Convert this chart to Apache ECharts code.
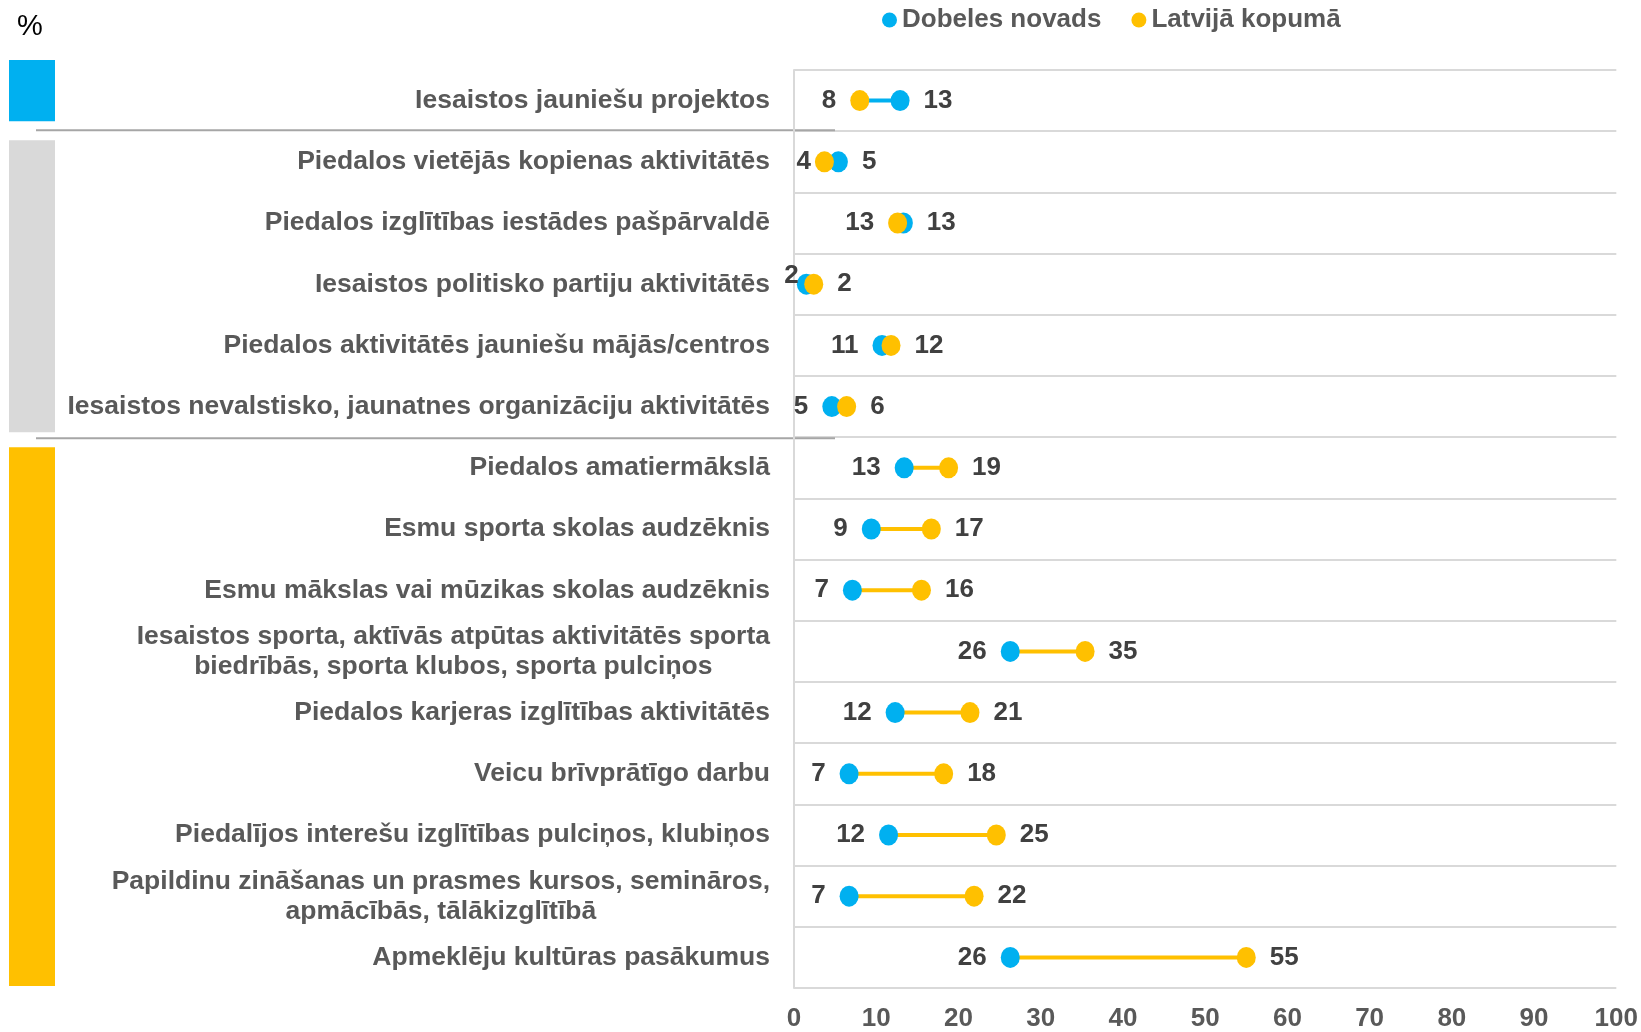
<!DOCTYPE html>
<html>
<head>
<meta charset="UTF-8">
<title>Jauniešu līdzdalība</title>
<script src="https://cdn.jsdelivr.net/npm/echarts@6/dist/echarts.min.js"></script>
<style>
html, body { margin: 0; padding: 0; background: #fff; }
#container { width: 1641px; height: 1032px; }
</style>
</head>
<body>
<div id="container"></div>
<script>
// kategorijas (no augšas uz leju)
var categories = [
    'Iesaistos jauniešu projektos',
    'Piedalos vietējās kopienas aktivitātēs',
    'Piedalos izglītības iestādes pašpārvaldē',
    'Iesaistos politisko partiju aktivitātēs',
    'Piedalos aktivitātēs jauniešu mājās/centros',
    'Iesaistos nevalstisko, jaunatnes organizāciju aktivitātēs',
    'Piedalos amatiermākslā',
    'Esmu sporta skolas audzēknis',
    'Esmu mākslas vai mūzikas skolas audzēknis',
    'Iesaistos sporta, aktīvās atpūtas aktivitātēs sporta\nbiedrībās, sporta klubos, sporta pulciņos',
    'Piedalos karjeras izglītības aktivitātēs',
    'Veicu brīvprātīgo darbu',
    'Piedalījos interešu izglītības pulciņos, klubiņos',
    'Papildinu zināšanas un prasmes kursos, semināros,\napmācībās, tālākizglītībā',
    'Apmeklēju kultūras pasākumus'
];
var seriesNames = ['Dobeles novads', 'Latvijā kopumā'];
var dobele  = [12.9, 5.4, 13.3, 1.5, 10.7, 4.6, 13.4, 9.4, 7.1, 26.3, 12.3, 6.7, 11.5, 6.7, 26.3];
var latvija = [8.0, 3.7, 12.6, 2.4, 11.8, 6.4, 18.8, 16.7, 15.5, 35.4, 21.4, 18.2, 24.6, 21.9, 55.0];
var xTicks = [0, 10, 20, 30, 40, 50, 60, 70, 80, 90, 100];
// grupas: [pirmā rinda, pēdējā rinda]
var groups = [[0, 0], [1, 5], [6, 14]];

var BLUE = '#00b0f0', YELLOW = '#ffc000', GREY = '#d9d9d9';
var FONT = '"Liberation Sans Narrow", "Liberation Sans", Arial, sans-serif';

var dom = document.getElementById('container');
var myChart = echarts.init(dom);

function pointData(vals, other) {
    return vals.map(function (v, i) {
        var left = v < other[i];
        var lab = { position: left ? 'left' : 'right' };
        if (left && v < 3) { lab.offset = [6, -8]; lab.distance = 4; }
        else if (left && v < 4) { lab.distance = 4; }
        return { value: [v, i], label: lab };
    });
}

var baseData = dobele.map(function (v, i) { return Math.min(v, latvija[i]); });
var gapData = dobele.map(function (v, i) {
    return {
        value: Math.abs(v - latvija[i]),
        itemStyle: { color: v > latvija[i] ? BLUE : YELLOW }
    };
});

var labelStyle = {
    show: true,
    fontFamily: FONT,
    fontWeight: 'bold',
    fontSize: 26,
    color: '#404040',
    distance: 14,
    formatter: function (p) { return Math.round(p.value[0]); }
};

var option = {
    animation: false,
    textStyle: { fontFamily: FONT },
    legend: {
        data: seriesNames,
        top: 2,
        left: 877,
        icon: 'circle',
        itemWidth: 15,
        itemHeight: 15,
        itemGap: 30,
        textStyle: { fontFamily: FONT, fontWeight: 'bold', fontSize: 26, color: '#595959' }
    },
    grid: { left: 794, right: 24, top: 70, bottom: 40 },
    xAxis: {
        type: 'value',
        min: xTicks[0],
        max: xTicks[xTicks.length - 1],
        interval: 10,
        axisLine: { show: false },
        axisTick: { show: false },
        splitLine: { show: false },
        axisLabel: { margin: 18, fontFamily: FONT, fontWeight: 'bold', fontSize: 26, color: '#595959' }
    },
    yAxis: {
        type: 'category',
        inverse: true,
        data: categories,
        axisLine: { show: true, lineStyle: { color: GREY, width: 2 } },
        axisTick: { show: false },
        splitLine: { show: true, lineStyle: { color: GREY, width: 2 } },
        axisLabel: {
            margin: 24,
            lineHeight: 30,
            fontFamily: FONT,
            fontWeight: 'bold',
            fontSize: 26.5,
            color: '#595959',
            formatter: function (v) {
                return v.split('\n').map(function (s) { return '{c|' + s + '}'; }).join('\n');
            },
            rich: {
                c: { align: 'center', fontFamily: FONT, fontWeight: 'bold', fontSize: 26.5, color: '#595959', lineHeight: 30 }
            }
        }
    },
    series: [
        {
            type: 'bar', stack: 'gap', barWidth: 4, silent: true,
            itemStyle: { color: 'transparent' },
            data: baseData
        },
        {
            type: 'bar', stack: 'gap', barWidth: 4, silent: true,
            data: gapData
        },
        {
            name: seriesNames[0], type: 'scatter', z: 3,
            symbolSize: [19, 21],
            itemStyle: { color: BLUE, opacity: 1 },
            label: labelStyle,
            data: pointData(dobele, latvija)
        },
        {
            name: seriesNames[1], type: 'scatter', z: 4,
            symbolSize: [19, 21],
            itemStyle: { color: YELLOW, opacity: 1 },
            label: labelStyle,
            data: pointData(latvija, dobele)
        }
    ]
};
myChart.setOption(option, true);

// grupu joslas kreisajā pusē un atdalītājlīnijas
var band = myChart.convertToPixel({ yAxisIndex: 0 }, 1) - myChart.convertToPixel({ yAxisIndex: 0 }, 0);
function rowTop(i) { return myChart.convertToPixel({ yAxisIndex: 0 }, i) - band / 2; }
function rowBottom(i) { return myChart.convertToPixel({ yAxisIndex: 0 }, i) + band / 2; }
var groupColors = [BLUE, GREY, YELLOW];
var insets = [[-10, 10], [9, 5], [10, 2]];
var graphics = [{
    type: 'text', left: 17, top: 12,
    style: { text: '%', fontFamily: '"Liberation Sans", Arial, sans-serif', fontSize: 29, fill: '#000' }
}];
groups.forEach(function (g, k) {
    var y0 = rowTop(g[0]) + insets[k][0];
    var y1 = rowBottom(g[1]) - insets[k][1];
    graphics.push({
        type: 'rect', shape: { x: 9, y: y0, width: 46, height: y1 - y0 },
        style: { fill: groupColors[k] }
    });
    if (k < groups.length - 1) {
        var ys = rowBottom(g[1]) + (k === 0 ? -1 : 1);
        graphics.push({
            type: 'line', shape: { x1: 36, y1: ys, x2: 835, y2: ys },
            style: { stroke: '#a6a6a6', lineWidth: 2 }
        });
    }
});
myChart.setOption({ graphic: graphics });
</script>
</body>
</html>
